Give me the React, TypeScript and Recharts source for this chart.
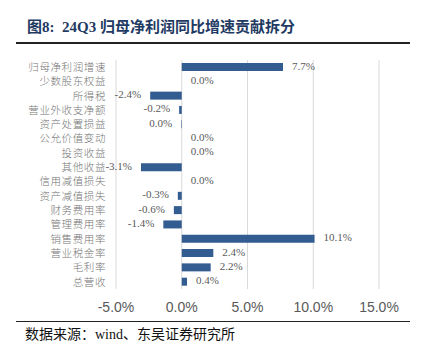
import React from "react";
import { BarChart, Bar, XAxis, YAxis, CartesianGrid, LabelList } from "recharts";

const categories = [
  "归母净利润增速",
  "少数股东权益",
  "所得税",
  "营业外收支净额",
  "资产处置损益",
  "公允价值变动",
  "投资收益",
  "其他收益",
  "信用减值损失",
  "资产减值损失",
  "财务费用率",
  "管理费用率",
  "销售费用率",
  "营业税金率",
  "毛利率",
  "总营收",
];
const contributions = [7.7, 0.0, -2.4, -0.2, -0.04, 0.0, 0.0, -3.1, 0.0, -0.3, -0.6, -1.4, 10.1, 2.4, 2.2, 0.4];
const xTicks = [-5, 0, 5, 10, 15];

const data = categories.map((name, i) => ({ name, value: contributions[i] }));

const fmt = (v: number) => (Math.abs(v) < 0.05 ? "0.0%" : `${v.toFixed(1)}%`);

const BarLabel = (props: any) => {
  const { x, y, width, height, value } = props;
  const v = Number(value);
  const x0 = Number(x);
  const w = Number(width) || 0;
  const left = Math.min(x0, x0 + w);
  const right = Math.max(x0, x0 + w);
  const cy = Number(y) + Number(height) / 2 - 1.5;
  const common = { fontSize: 11, fill: "#595959", fontFamily: '"Liberation Serif", "DejaVu Serif", serif', dominantBaseline: "central" } as any;
  if (v < 0) {
    return (
      <text x={left - 9} y={cy} textAnchor="end" {...common}>
        {fmt(v)}
      </text>
    );
  }
  return (
    <text x={right + 9} y={cy} textAnchor="start" {...common}>
      {fmt(v)}
    </text>
  );
};

export default function App() {
  return (
    <div style={{ position: "absolute", left: 0, top: 0, width: 423, height: 353, background: "#fff" }}>
      <div
        style={{
          position: "absolute",
          left: 27,
          top: 17,
          fontSize: 15,
          fontWeight: "bold",
          color: "#1f3a63",
          fontFamily: '"Liberation Serif", "Noto Sans CJK SC", serif',
          lineHeight: "20px",
          whiteSpace: "nowrap",
        }}
      >
        图8:&nbsp;&nbsp;24Q3 归母净利润同比增速贡献拆分
      </div>
      <div style={{ position: "absolute", left: 16, top: 42, width: 394, height: 1.5, background: "#222" }} />
      <div style={{ position: "absolute", left: 0, top: 0 }}>
        <BarChart
          width={423}
          height={353}
          data={data}
          layout="vertical"
          margin={{ top: 60, right: 44, bottom: 34, left: 0 }}
          barSize={8}
        >
          <CartesianGrid horizontal={false} vertical={true} stroke="#d9d9d9" strokeWidth={1} />
          <XAxis
            type="number"
            domain={[-5, 15]}
            ticks={xTicks}
            tickFormatter={(v: number) => `${v.toFixed(1)}%`}
            axisLine={false}
            tickLine={false}
            tickMargin={7}
            tick={{ fontSize: 14, fill: "#595959", fontFamily: '"Liberation Sans", Arial, sans-serif' }}
            interval={0}
          />
          <YAxis
            type="category"
            dataKey="name"
            width={116}
            axisLine={false}
            tickLine={false}
            tickMargin={4}
            interval={0}
            tick={{ fontSize: 10.5, fill: "#757575", fontFamily: '"Noto Sans CJK SC", sans-serif', fontWeight: 300, letterSpacing: 0.6 } as any}
          />
          <Bar dataKey="value" fill="#335c91" isAnimationActive={false} minPointSize={0.01}>
            <LabelList dataKey="value" content={BarLabel} />
          </Bar>
        </BarChart>
      </div>
      <div style={{ position: "absolute", left: 16, top: 320.5, width: 394, height: 1.5, background: "#222" }} />
      <div
        style={{
          position: "absolute",
          left: 25,
          top: 326,
          fontSize: 14,
          color: "#111",
          fontFamily: '"Liberation Serif", "Noto Sans CJK SC", serif',
          lineHeight: "18px",
          whiteSpace: "nowrap",
        }}
      >
        数据来源：wind、东吴证券研究所
      </div>
    </div>
  );
}
